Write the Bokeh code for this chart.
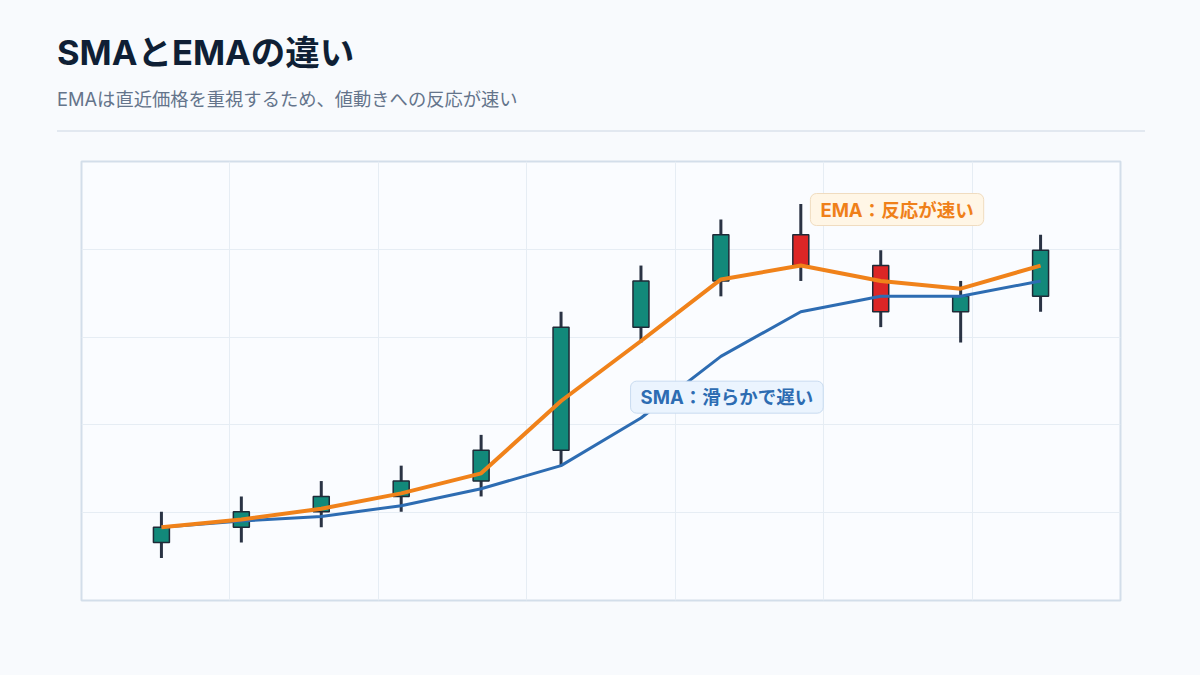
from bokeh.plotting import figure
from bokeh.models import Range1d, Grid, FixedTicker, Label, ColumnDataSource, Div
from bokeh.layouts import column
from bokeh.embed import file_html
from bokeh.resources import INLINE

# ---- data ----
idx = list(range(12))
opens  = [100, 101, 102, 103, 104, 106, 114, 117, 120, 118, 115, 116]
closes = [101, 102, 103, 104, 106, 114, 117, 120, 118, 115, 116, 119]
highs  = [102, 103, 104, 105, 107, 115, 118, 121, 122, 119, 117, 120]
lows   = [99, 100, 101, 102, 103, 105, 113, 116, 117, 114, 113, 115]
sma = [101.0, 101.4, 101.7, 102.4, 103.5, 105.0, 108.1, 112.1, 115.0, 116.0, 116.0, 117.0]
ema = [101.0, 101.5, 102.2, 103.2, 104.5, 109.2, 113.1, 117.1, 118.0, 117.0, 116.5, 118.0]

title_text = "SMAとEMAの違い"
subtitle_text = "EMAは直近価格を重視するため、値動きへの反応が速い"
ema_note = "EMA：反応が速い"
sma_note = "SMA：滑らかで遅い"

BG = "#f8fafd"
GREEN = "#12897a"
RED = "#dc2626"
WICK = "#2a3344"
FONT = "Inter, 'Noto Sans CJK JP', sans-serif"
HEADER_H = 140

# ---- header ----
header_html = f"""
<div style="position:relative;width:1200px;height:{HEADER_H}px;background:{BG};margin:0;padding:0;
            font-family:Inter,'Noto Sans CJK JP',sans-serif;">
  <div style="position:absolute;left:57px;top:36px;font-size:34.5px;font-weight:700;color:#0f1f35;
              line-height:1;white-space:nowrap;">{title_text}</div>
  <div style="position:absolute;left:57px;top:90px;font-size:18.3px;font-weight:400;color:#64748b;
              line-height:1;white-space:nowrap;">{subtitle_text}</div>
  <div style="position:absolute;left:57px;top:129.5px;width:1088px;height:2px;background:#e2e8f0;"></div>
</div>
"""
h = Div(text=header_html, width=1200, height=HEADER_H, margin=0,
        styles={"background-color": BG, "margin": "0", "padding": "0"})

# ---- chart ----
up = [c >= o for o, c in zip(opens, closes)]
src = ColumnDataSource(dict(
    x=idx, top=[max(o, c) for o, c in zip(opens, closes)],
    bottom=[min(o, c) for o, c in zip(opens, closes)],
    high=highs, low=lows,
    color=[GREEN if u else RED for u in up],
))

ymin, ymax = min(lows), max(highs)
pad = (ymax - ymin) * 0.12
y0, y1 = ymin - pad, ymax + pad
x0, x1 = -1, 12

p = figure(width=1200, height=675 - HEADER_H, output_backend="svg", toolbar_location=None,
           x_axis_type=None, y_axis_type=None,
           x_range=Range1d(x0, x1), y_range=Range1d(y0, y1),
           min_border_left=81, min_border_right=80, min_border_top=161 - HEADER_H,
           min_border_bottom=75, margin=0)
p.background_fill_color = "#fafcff"
p.border_fill_color = BG
p.outline_line_color = "#d3deea"
p.outline_line_width = 2
p.grid.visible = False

xt = [x0 + (x1 - x0) * k / 7 for k in range(1, 7)]
yt = [y0 + (y1 - y0) * k / 5 for k in range(1, 5)]
p.add_layout(Grid(dimension=0, ticker=FixedTicker(ticks=xt), grid_line_color="#e6edf4", grid_line_width=1))
p.add_layout(Grid(dimension=1, ticker=FixedTicker(ticks=yt), grid_line_color="#e6edf4", grid_line_width=1))

p.segment(x0="x", y0="high", x1="x", y1="low", source=src, line_color=WICK, line_width=3)
p.vbar(x="x", top="top", bottom="bottom", width=0.2, source=src,
       fill_color="color", line_color="#1f2a37", line_width=1.5)

p.line(idx, sma, line_color="#2d6cb2", line_width=3)
p.line(idx, ema, line_color="#f0821a", line_width=4)

p.add_layout(Label(x=8.12, y=121.64, text=ema_note, text_font=FONT, text_font_size="18.5px",
                   text_font_style="bold", text_color="#ef8019", text_align="left",
                   text_baseline="middle", background_fill_color="#fff6e6",
                   border_line_color="#f0dcbf", border_line_width=1, padding=(10, 5),
                   border_radius=6))
p.add_layout(Label(x=5.87, y=109.45, text=sma_note, text_font=FONT, text_font_size="18.5px",
                   text_font_style="bold", text_color="#2d6cb2", text_align="left",
                   text_baseline="middle", background_fill_color="#ebf4fe",
                   border_line_color="#c8dbf0", border_line_width=1, padding=(10, 5),
                   border_radius=6))

layout = column(h, p, spacing=0, margin=0, styles={"background-color": BG})
open("out.html", "w").write(file_html(layout, INLINE))
